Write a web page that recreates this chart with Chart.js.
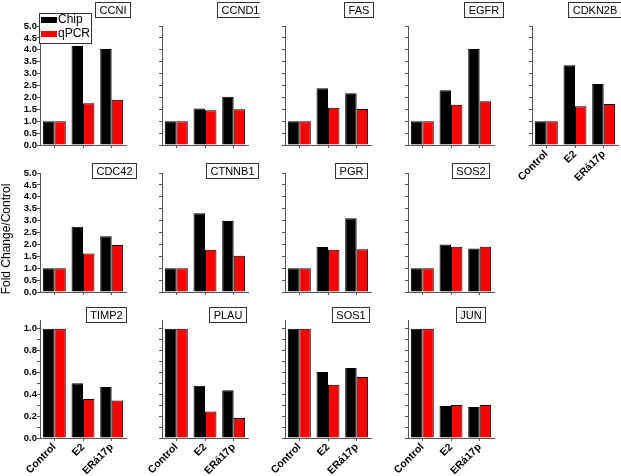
<!DOCTYPE html>
<html><head><meta charset="utf-8">
<script src="https://cdn.jsdelivr.net/npm/chart.js@4"></script>
<style>
html,body{margin:0;padding:0;background:#fff;overflow:hidden;width:621px;height:476px;}
#wrap{position:relative;width:621px;height:476px;overflow:hidden;}
canvas{position:absolute;}
</style></head><body><div id="wrap"></div>
<script>
// ---------- DATA ----------
const genes = ['CCNI','CCND1','FAS','EGFR','CDKN2B','CDC42','CTNNB1','PGR','SOS2','TIMP2','PLAU','SOS1','JUN'];
const conditions = ['Control','E2','ERá17p'];
const seriesNames = ['Chip','qPCR'];
const chipFold = [
  [1,4.16,4.03],[1,1.53,2.03],[1,2.38,2.17],[1,2.30,4.03],[1,3.35,2.56],
  [1,2.74,2.34],[1,3.31,2.98],[1,1.89,3.10],[1,2.00,1.83],
  [1,0.50,0.467],[1,0.478,0.436],[1,0.604,0.64],[1,0.293,0.284]
];
const qpcrFold = [
  [1,1.75,1.90],[1,1.46,1.50],[1,1.57,1.51],[1,1.69,1.84],[1,1.63,1.72],
  [1,1.62,1.97],[1,1.77,1.52],[1,1.77,1.80],[1,1.90,1.90],
  [1,0.357,0.344],[1,0.243,0.183],[1,0.488,0.558],[1,0.302,0.302]
];
const upMax = 5.0, upStep = 0.5;
const downMax = 1.08, downStep = 0.1;
const yAxisTitle = 'Fold Change/Control';

// ---------- LAYOUT / STYLE ----------
const panelRows = [[0,1,2,3,4],[5,6,7,8],[9,10,11,12]];
const colLeft = [40,162,285,408,532];
const rowTop = [26,173,320];
const rowHeight = [119,119,118];
const plotWidth = 86;
const titleDy = [-24,-10,-13];
const titleDx = [[72.5,78,73.5,75,62],[74,70,66,62],[65.5,65.5,65,62]];
const axisColor = '#555';
const seriesColors = ['#000000','#ff0000'];
const FONT = '"Liberation Sans", Arial, sans-serif';
const PADTOP = 26, YW = 40, XH = 45, PADR = 12;

const boxTitlePlugin = {
  id:'boxTitle',
  afterDraw(chart, args, opts){
    if(!opts || !opts.text) return;
    const ctx = chart.ctx, a = chart.chartArea;
    ctx.save();
    ctx.font = '11px ' + FONT;
    const tw = ctx.measureText(opts.text).width;
    const w = Math.round(tw + 8), h = 15;
    const cx = a.left + opts.dx, top = Math.round(a.top + opts.dy);
    const x0 = Math.round(cx - w/2);
    ctx.fillStyle = '#fff'; ctx.fillRect(x0, top, w, h);
    ctx.strokeStyle = '#333'; ctx.lineWidth = 1;
    ctx.strokeRect(x0 + 0.5, top + 0.5, w, h);
    ctx.fillStyle = '#000'; ctx.textAlign = 'center'; ctx.textBaseline = 'middle';
    ctx.fillText(opts.text, x0 + w/2 + 0.5, top + h/2 + 1);
    ctx.restore();
  }
};

const boxLegendPlugin = {
  id:'boxLegend',
  afterDraw(chart, args, opts){
    if(!opts || !opts.show) return;
    const ctx = chart.ctx, a = chart.chartArea;
    ctx.save();
    const x = Math.round(a.left - 1), y = Math.round(a.top - 13);
    ctx.fillStyle = '#fff'; ctx.fillRect(x, y, 52, 30);
    ctx.strokeStyle = '#333'; ctx.lineWidth = 1; ctx.strokeRect(x + 0.5, y + 0.5, 52, 30);
    ctx.font = '12px ' + FONT; ctx.textBaseline = 'middle'; ctx.textAlign = 'left';
    chart.data.datasets.forEach((ds, i) => {
      const yy = y + 4 + i * 14;
      ctx.fillStyle = ds.backgroundColor; ctx.fillRect(x + 2, yy, 16, 6);
      ctx.fillStyle = '#000'; ctx.fillText(ds.label, x + 19, yy + 3);
    });
    ctx.restore();
  }
};

const yTitlePlugin = {
  id:'yTitle',
  afterDraw(chart, args, opts){
    if(!opts || !opts.text) return;
    const ctx = chart.ctx, a = chart.chartArea;
    ctx.save();
    ctx.translate(a.left + opts.dx, a.top + opts.dy);
    ctx.rotate(-Math.PI/2);
    ctx.font = '12px ' + FONT; ctx.fillStyle = '#000';
    ctx.textAlign = 'center'; ctx.textBaseline = 'middle';
    ctx.fillText(opts.text, 0, 0);
    ctx.restore();
  }
};

const wrap = document.getElementById('wrap');

function makePanel(idx, r, c){
  const cv = document.createElement('canvas');
  const W = YW + plotWidth + PADR, H = PADTOP + rowHeight[r] + XH;
  cv.width = W; cv.height = H;
  cv.style.width = W + 'px'; cv.style.height = H + 'px';
  cv.style.left = (colLeft[c] - YW) + 'px'; cv.style.top = (rowTop[r] - PADTOP) + 'px';
  wrap.appendChild(cv);
  const down = r === 2;
  const showY = c === 0;
  const showX = r === 2 || genes[idx] === 'CDKN2B';
  new Chart(cv, {
    type:'bar',
    data:{
      labels: conditions,
      datasets:[
        {label:seriesNames[0], data:chipFold[idx], backgroundColor:seriesColors[0], borderColor:'#000', borderWidth:1},
        {label:seriesNames[1], data:qpcrFold[idx], backgroundColor:seriesColors[1], borderColor:'#000', borderWidth:1}
      ]
    },
    options:{
      responsive:false, animation:false, devicePixelRatio:1,
      layout:{padding:{top:PADTOP,left:0,right:PADR,bottom:0}},
      datasets:{bar:{categoryPercentage:0.8, barPercentage:1.0}},
      plugins:{
        legend:{display:false}, tooltip:{enabled:false},
        boxTitle:{text:genes[idx], dx:titleDx[r][c], dy:titleDy[r]},
        boxLegend:{show: idx === 0},
        yTitle:{text: idx === 5 ? yAxisTitle : '', dx:-33, dy:66}
      },
      scales:{
        x:{
          grid:{offset:false, drawOnChartArea:false, tickLength:3, color:axisColor},
          border:{color:axisColor, width:1},
          ticks:{display:showX, minRotation:45, maxRotation:45, padding:0, autoSkip:false, color:'#000', font:{family:FONT, size:10.5, weight:'bold'}},
          afterFit(s){ s.height = XH; s.paddingLeft = 0; s.paddingRight = 0; }
        },
        y:{
          min:0, max: down ? downMax : upMax,
          grid:{drawOnChartArea:false, tickLength:3, color:axisColor},
          border:{color:axisColor, width:1},
          ticks:{
            display:showY, stepSize: down ? downStep : upStep, includeBounds:false, autoSkip:false, padding:0,
            color:'#000', font:{family:FONT, size:9.5, weight:'bold'},
            callback(v){
              if(down) return (Math.round(v*10) % 2 === 0) ? Number(v).toFixed(1) : '';
              return Number(v).toFixed(1);
            }
          },
          afterFit(s){ s.width = YW; s.paddingTop = 0; s.paddingBottom = 0; }
        }
      }
    },
    plugins:[boxTitlePlugin, boxLegendPlugin, yTitlePlugin]
  });
}

panelRows.forEach((row, r) => row.forEach((idx, c) => makePanel(idx, r, c)));
</script>
</body></html>
